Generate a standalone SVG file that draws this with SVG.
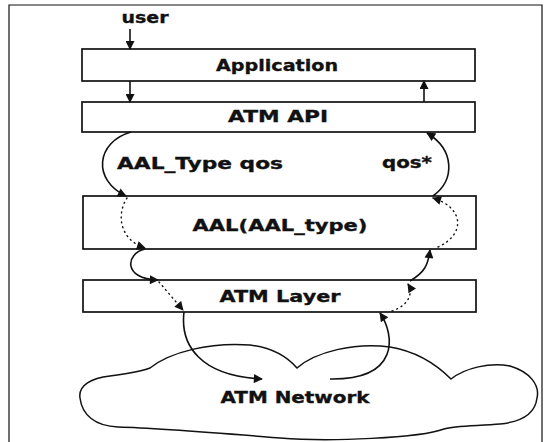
<svg xmlns="http://www.w3.org/2000/svg" width="548" height="442" viewBox="0 0 548 442">
  <style>
    .frame { fill: none; stroke: #111; stroke-width: 1.2; }
    .box { fill: #fff; stroke: #111; stroke-width: 1.7; }
    .lbl { font-family: "DejaVu Sans", "Liberation Sans", sans-serif; font-weight: bold; font-size: 16.5px; fill: #111; stroke: #111; stroke-width: 0.35; text-anchor: middle; }
    .flow { fill: none; stroke: #111; stroke-width: 1.6; }
    .dots { fill: none; stroke: #111; stroke-width: 1.4; stroke-dasharray: 1 4; stroke-linecap: round; }
    .cloud { fill: #fff; stroke: #111; stroke-width: 1.5; }
  </style>
  <defs>
    <marker id="head" viewBox="0 0 10 10" refX="9" refY="5" markerWidth="10" markerHeight="9" markerUnits="userSpaceOnUse" orient="auto">
      <path d="M0,0 L10,5 L0,10 Z" fill="#111"/>
    </marker>
  </defs>

  <rect width="548" height="442" fill="#fff"/>
  <!-- outer frame, open at the bottom -->
  <path class="frame" d="M9,442 L9,5 L542,5 L542,442"/>

  <!-- network cloud -->
  <g id="atm-network">
    <path class="cloud" d="M80,398 C78,385 92,378 110,376 C125,374 140,372 150,368 C170,352 210,342 250,345 C275,348 290,360 297,368 C315,352 355,342 390,347 C420,352 440,368 451,379 C465,368 490,362 510,366 C530,372 540,385 537,398 C535,415 520,422 500,424 C480,426 455,425 444,429 C420,438 330,442 280,438 C230,434 160,428 118,427 C95,426 82,415 80,398 Z"/>
    <text class="lbl" x="295" y="403" textLength="149" lengthAdjust="spacingAndGlyphs">ATM Network</text>
  </g>

  <g id="user">
    <text class="lbl" x="145" y="23" textLength="47" lengthAdjust="spacingAndGlyphs">user</text>
  </g>

  <g id="application">
    <rect class="box" x="82" y="49" width="393" height="32"/>
    <text class="lbl" x="277" y="71" textLength="122" lengthAdjust="spacingAndGlyphs">Application</text>
  </g>

  <g id="atm-api">
    <rect class="box" x="82" y="102" width="393" height="30"/>
    <text class="lbl" x="278" y="122" textLength="100" lengthAdjust="spacingAndGlyphs">ATM API</text>
  </g>

  <g id="aal">
    <rect class="box" x="83" y="196" width="393" height="53"/>
    <text class="lbl" x="280" y="231" textLength="175" lengthAdjust="spacingAndGlyphs">AAL(AAL_type)</text>
  </g>

  <g id="atm-layer">
    <rect class="box" x="83" y="280" width="393" height="32"/>
    <text class="lbl" x="280" y="302" textLength="121" lengthAdjust="spacingAndGlyphs">ATM Layer</text>
  </g>

  <g id="labels">
    <text class="lbl" x="200" y="169" textLength="166" lengthAdjust="spacingAndGlyphs">AAL_Type qos</text>
    <text class="lbl" x="407" y="168" textLength="50" lengthAdjust="spacingAndGlyphs">qos*</text>
  </g>

  <g id="connectors">
    <!-- straight arrows -->
    <path class="flow" d="M130,29 L130,49" marker-end="url(#head)"/>
    <path class="flow" d="M130,81 L130,102" marker-end="url(#head)"/>
    <path class="flow" d="M424,102 L424,81" marker-end="url(#head)"/>

    <!-- downward path on the left -->
    <path class="flow" d="M131,132 C96,142 92,180 126,196" marker-end="url(#head)"/>
    <path class="dots" d="M127,198 C116,215 120,240 145,248" marker-end="url(#head)"/>
    <path class="flow" d="M145,249 C126,253 122,279 158,280" marker-end="url(#head)"/>
    <path class="dots" d="M159,282 L183,310" marker-end="url(#head)"/>
    <path class="flow" d="M184,312 C180,345 200,376 262,379" marker-end="url(#head)"/>

    <!-- upward path on the right -->
    <path class="flow" d="M330,379 C400,380 395,335 380,313" marker-end="url(#head)"/>
    <path class="dots" d="M392,311 C410,305 413,292 408,284" marker-end="url(#head)"/>
    <path class="flow" d="M410,281 C425,272 428,265 430,250" marker-end="url(#head)"/>
    <path class="dots" d="M438,247 C465,235 465,208 433,198" marker-end="url(#head)"/>
    <path class="flow" d="M433,196 C455,180 455,150 427,133" marker-end="url(#head)"/>
  </g>
</svg>
